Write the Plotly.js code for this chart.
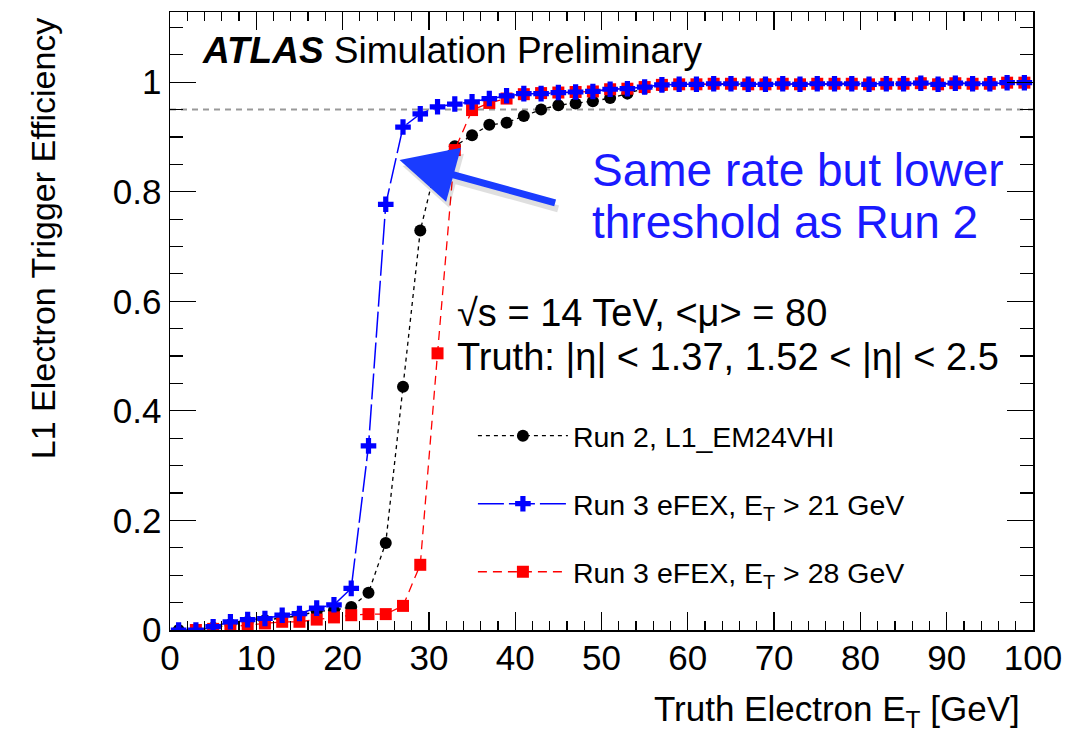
<!DOCTYPE html>
<html>
<head>
<meta charset="utf-8">
<script src="https://cdn.plot.ly/plotly-3.0.1.min.js"></script>
<style>
html,body{margin:0;padding:0;background:#fff;}
#chart{width:1071px;height:735px;}
</style>
</head>
<body>
<div id="chart"></div>
<script>
// Bin centres (truth electron ET, GeV)
const binCentres = [1,3,5,7,9,11,13,15,17,19,21,23,25,27,29,31,33,35,37,39,41,43,45,47,49,51,53,55,57,59,61,63,65,67,69,71,73,75,77,79,81,83,85,87,89,91,93,95,97,99];

// Run 2, L1_EM24VHI
const run2Eff = [0.0,0.0,0.004,0.010,0.015,0.018,0.022,0.026,0.034,0.036,0.042,0.068,0.159,0.444,0.729,0.859,0.883,0.903,0.922,0.926,0.938,0.950,0.958,0.961,0.965,0.971,0.979,0.989,0.993,0.995,0.996,0.997,0.997,0.996,0.997,0.997,0.996,0.997,0.997,0.998,0.996,0.997,0.997,0.998,0.997,0.998,0.997,0.998,0.999,0.999];

// Run 3 eFEX, ET > 21 GeV
const run3LowEff = [0.0,0.0,0.006,0.015,0.019,0.021,0.027,0.030,0.040,0.046,0.076,0.336,0.777,0.918,0.942,0.955,0.960,0.964,0.970,0.975,0.979,0.979,0.981,0.982,0.983,0.987,0.988,0.991,0.995,0.996,0.996,0.997,0.997,0.996,0.996,0.997,0.996,0.997,0.997,0.997,0.996,0.997,0.997,0.998,0.996,0.998,0.997,0.997,0.999,0.999];

// Run 3 eFEX, ET > 28 GeV
const run3HighEff = [null,0.0,0.002,0.006,0.009,0.012,0.015,0.015,0.019,0.023,0.027,0.029,0.029,0.044,0.119,0.505,0.876,0.949,0.962,0.970,0.978,0.980,0.981,0.982,0.983,0.987,0.988,0.991,0.995,0.996,0.996,0.997,0.997,0.996,0.996,0.997,0.996,0.997,0.997,0.997,0.996,0.997,0.997,0.998,0.996,0.998,0.997,0.997,0.999,0.999];

const seriesNames = ["Run 2, L1_EM24VHI", "Run 3 eFEX, E<sub>T</sub> > 21 GeV", "Run 3 eFEX, E<sub>T</sub> > 28 GeV"];
const xTicks = [0,10,20,30,40,50,60,70,80,90,100];
const yTicks = [0,0.2,0.4,0.6,0.8,1];
const refLevel = 0.95;
// arrow: tail and tip in data coordinates
const arrowTail = [44.8, 0.779];
const arrowTip = [26.6, 0.858];

const FONT = '"Liberation Sans", Arial, Helvetica, sans-serif';

const traces = [
  {
    x: binCentres, y: run2Eff, name: seriesNames[0], type: 'scatter', mode: 'lines+markers',
    line: {color: '#000000', width: 1.3, dash: '4px,4px'},
    marker: {symbol: 'circle', size: 12, color: '#000000'},
    legendrank: 1, legendgroup: 'a'
  },
  {
    x: binCentres, y: run3HighEff, name: seriesNames[2], type: 'scatter', mode: 'lines+markers',
    line: {color: '#ff0000', width: 1.3, dash: '9px,6px'},
    marker: {symbol: 'square', size: 12, color: '#ff0000'},
    legendrank: 3, legendgroup: 'c', connectgaps: false
  },
  {
    x: binCentres, y: run3LowEff, name: seriesNames[1], type: 'scatter', mode: 'lines+markers',
    line: {color: '#0000ff', width: 1.5, dash: '26px,5px'},
    marker: {symbol: 'cross', size: 13, color: '#0000ff'},
    legendrank: 2, legendgroup: 'b'
  }
];

const layout = {
  width: 1071, height: 735,
  margin: {l: 170, r: 38, t: 12, b: 105},
  paper_bgcolor: '#ffffff', plot_bgcolor: '#ffffff',
  font: {family: FONT, color: '#000000', size: 34},
  showlegend: true,
  legend: {
    x: 0.351, y: 0.355, xanchor: 'left', yanchor: 'top',
    bgcolor: 'rgba(0,0,0,0)', borderwidth: 0,
    font: {family: FONT, size: 28.5, color: '#000000'},
    tracegroupgap: 28, itemwidth: 90, traceorder: 'grouped'
  },
  xaxis: {
    range: [0, 100], autorange: false,
    tickvals: xTicks, ticktext: xTicks.map(String),
    ticks: 'inside', ticklen: 18, tickwidth: 1.2, tickcolor: '#000',
    minor: {dtick: 2, ticks: 'inside', ticklen: 9, tickwidth: 1.2, tickcolor: '#000', showgrid: false},
    showline: true, linecolor: '#000', linewidth: 1.5, mirror: 'ticks',
    showgrid: false, zeroline: false,
    tickfont: {family: FONT, size: 35, color: '#000'},
    ticklabelstandoff: -4,
    title: {text: ''}
  },
  yaxis: {
    range: [0, 1.128], autorange: false,
    tickvals: yTicks, ticktext: yTicks.map(String),
    ticks: 'inside', ticklen: 26, tickwidth: 1.2, tickcolor: '#000',
    minor: {dtick: 0.05, ticks: 'inside', ticklen: 13, tickwidth: 1.2, tickcolor: '#000', showgrid: false},
    showline: true, linecolor: '#000', linewidth: 1.5, mirror: 'ticks',
    showgrid: false, zeroline: false,
    tickfont: {family: FONT, size: 35, color: '#000'},
    ticklabelstandoff: 0,
    title: {text: ''}
  },
  shapes: [
    {type: 'line', xref: 'paper', x0: 0, x1: 1, yref: 'y', y0: refLevel, y1: refLevel,
     line: {color: '#999999', width: 2, dash: '6px,5px'}, layer: 'below'}
  ],
  annotations: [
    {xref: 'paper', yref: 'paper', x: 0.0348, y: 0.937, xanchor: 'left', yanchor: 'middle', showarrow: false,
     text: '<b><i>ATLAS</i></b> Simulation Preliminary', font: {family: FONT, size: 37, color: '#000'}},
    {xref: 'paper', yref: 'paper', x: 0.4867, y: 0.744, xanchor: 'left', yanchor: 'middle', showarrow: false,
     text: 'Same rate but lower', font: {family: FONT, size: 46, color: '#1a1aff'}},
    {xref: 'paper', yref: 'paper', x: 0.4867, y: 0.660, xanchor: 'left', yanchor: 'middle', showarrow: false,
     text: 'threshold as Run 2', font: {family: FONT, size: 46, color: '#1a1aff'}},
    {xref: 'paper', yref: 'paper', x: 0.330, y: 0.513, xanchor: 'left', yanchor: 'middle', showarrow: false,
     text: '√s = 14 TeV, &lt;μ&gt; = 80', font: {family: FONT, size: 38, color: '#000'}},
    {xref: 'paper', yref: 'paper', x: 0.330, y: 0.4417, xanchor: 'left', yanchor: 'middle', showarrow: false,
     text: 'Truth: |η| &lt; 1.37, 1.52 &lt; |η| &lt; 2.5', font: {family: FONT, size: 38, color: '#000'}},
    {xref: 'x', yref: 'y', axref: 'x', ayref: 'y',
     x: arrowTip[0], y: arrowTip[1], ax: arrowTail[0], ay: arrowTail[1], xshift: 3, yshift: -6,
     showarrow: true, arrowhead: 2, arrowsize: 1.6, arrowwidth: 7, arrowcolor: 'rgba(0,0,0,0.12)', text: ''},
    {xref: 'x', yref: 'y', axref: 'x', ayref: 'y',
     x: arrowTip[0], y: arrowTip[1], ax: arrowTail[0], ay: arrowTail[1],
     showarrow: true, arrowhead: 2, arrowsize: 1.6, arrowwidth: 7, arrowcolor: '#1a3cff', text: ''},
    {xref: 'paper', yref: 'paper', x: 0.987, y: -0.093, xanchor: 'right', yanchor: 'top', showarrow: false,
     text: 'Truth Electron E<sub>T</sub> [GeV]', font: {family: FONT, size: 35, color: '#000'}},
    {xref: 'paper', yref: 'paper', x: -0.147, y: 0.995, xanchor: 'center', yanchor: 'top', textangle: -90, showarrow: false,
     text: 'L1 Electron Trigger Efficiency', font: {family: FONT, size: 34, color: '#000'}}
  ]
};

Plotly.newPlot('chart', traces, layout, {displayModeBar: false, staticPlot: true});
</script>
</body>
</html>
